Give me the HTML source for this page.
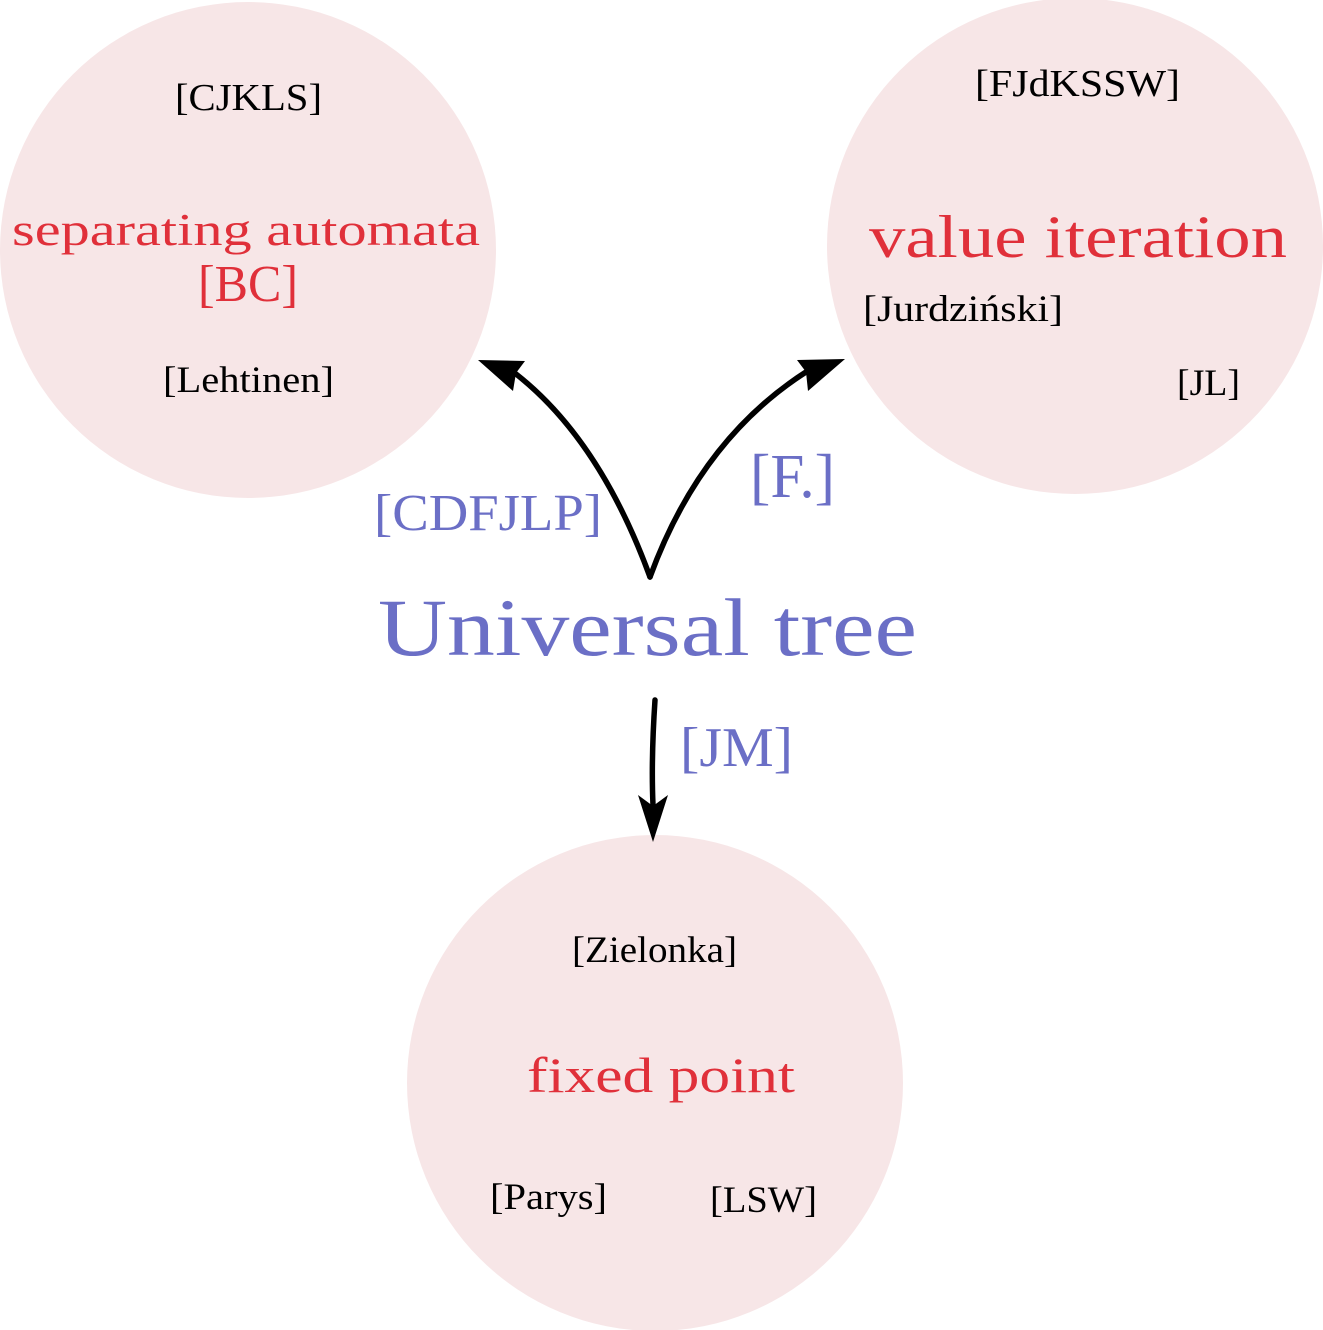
<!DOCTYPE html>
<html><head><meta charset="utf-8"><style>
html,body{margin:0;padding:0;background:#fff;}
svg{display:block;}
text{font-family:"Liberation Serif",serif;}
</style></head><body>
<svg width="1323" height="1330" viewBox="0 0 1323 1330" xmlns="http://www.w3.org/2000/svg">
<circle cx="248" cy="250" r="248" fill="#f7e6e7"/>
<circle cx="1075" cy="246" r="248" fill="#f7e6e7"/>
<circle cx="655" cy="1083" r="248" fill="#f7e6e7"/>

<text x="175" y="110" font-size="38" fill="#000" textLength="147" lengthAdjust="spacingAndGlyphs">[CJKLS]</text>
<text x="12" y="245" font-size="45" fill="#e0303a" textLength="468" lengthAdjust="spacingAndGlyphs">separating automata</text>
<text x="198" y="301" font-size="52" fill="#e0303a" textLength="100" lengthAdjust="spacingAndGlyphs">[BC]</text>
<text x="163" y="392" font-size="37" fill="#000" textLength="171" lengthAdjust="spacingAndGlyphs">[Lehtinen]</text>

<text x="975" y="96" font-size="38" fill="#000" textLength="205" lengthAdjust="spacingAndGlyphs">[FJdKSSW]</text>
<text x="869" y="257" font-size="60" fill="#e0303a" textLength="418" lengthAdjust="spacingAndGlyphs">value iteration</text>
<text x="863" y="321" font-size="37" fill="#000" textLength="200" lengthAdjust="spacingAndGlyphs">[Jurdziński]</text>
<text x="1177" y="395" font-size="37" fill="#000" textLength="63" lengthAdjust="spacingAndGlyphs">[JL]</text>

<text x="374" y="530" font-size="52" fill="#6b6fc6" textLength="228" lengthAdjust="spacingAndGlyphs">[CDFJLP]</text>
<text x="750" y="497" font-size="62" fill="#6b6fc6" textLength="85" lengthAdjust="spacingAndGlyphs">[F.]</text>
<text x="378" y="655" font-size="82" fill="#6b6fc6" textLength="539" lengthAdjust="spacingAndGlyphs">Universal tree</text>
<text x="680" y="766" font-size="56" fill="#6b6fc6" textLength="113" lengthAdjust="spacingAndGlyphs">[JM]</text>

<text x="572" y="962" font-size="37" fill="#000" textLength="165" lengthAdjust="spacingAndGlyphs">[Zielonka]</text>
<text x="527" y="1092" font-size="50" fill="#e0303a" textLength="268" lengthAdjust="spacingAndGlyphs">fixed point</text>
<text x="490" y="1209" font-size="37" fill="#000" textLength="117" lengthAdjust="spacingAndGlyphs">[Parys]</text>
<text x="710" y="1212" font-size="37" fill="#000" textLength="107" lengthAdjust="spacingAndGlyphs">[LSW]</text>

<g stroke="#000" stroke-width="5.5" fill="none" stroke-linecap="round">
<path d="M650 577 Q600 440 516 374"/>
<path d="M650 577 Q700 440 806 372"/>
<path d="M655 700 Q651 760 653 805"/>
</g>
<g fill="#000">
<polygon points="478,360 525,361 516,373 513,391"/>
<polygon points="845,359 797,360 806,372 808,391"/>
<polygon points="653,842 638,795 653,806 668,795"/>
</g>
</svg>
</body></html>
